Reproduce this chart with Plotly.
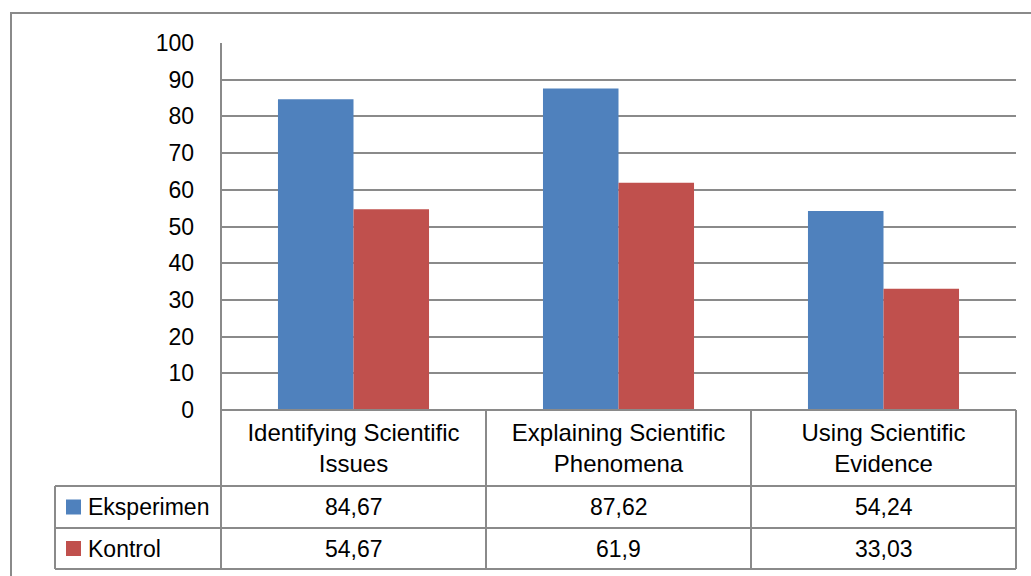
import plotly.graph_objects as go

# Chart data
categories = ["Identifying Scientific<br>Issues",
              "Explaining Scientific<br>Phenomena",
              "Using Scientific<br>Evidence"]
series_names = ["Eksperimen", "Kontrol"]
eksperimen = [84.67, 87.62, 54.24]
kontrol = [54.67, 61.9, 33.03]
y_ticks = [0, 10, 20, 30, 40, 50, 60, 70, 80, 90, 100]

BLUE = "#4F81BD"
RED = "#C0504D"
GRID = "#8A8A8A"
FONT = "Liberation Sans, Arial, sans-serif"

W, H = 1031, 576
ML, MR, MT, MB = 221, 15, 43, 166
PW = W - ML - MR
PH = H - MT - MB
X_RANGE = [-0.5, len(categories) - 0.5]


def px_x(x):
    return (x - ML) / PW


def px_y(y):
    return (H - MB - y) / PH


def cat_edge(i):
    # paper x of the boundary left of category i
    return (i - 0.5 - X_RANGE[0]) / (X_RANGE[1] - X_RANGE[0])


fig = go.Figure()
fig.add_trace(go.Bar(x=categories, y=eksperimen, name=series_names[0],
                     marker=dict(color=BLUE, line=dict(width=0))))
fig.add_trace(go.Bar(x=categories, y=kontrol, name=series_names[1],
                     marker=dict(color=RED, line=dict(width=0))))

# data table rows (pixel rows)
row_top = H - MB
row_lines = [486, 528, 569]
legend_left = 55

shapes = []
line = dict(color=GRID, width=2)
# outer chart frame
shapes.append(dict(type="rect", xref="paper", yref="paper",
                   x0=px_x(11), x1=px_x(W + 20), y0=px_y(13), y1=px_y(H + 20),
                   line=line, fillcolor="rgba(0,0,0,0)", layer="below"))
# horizontal table lines
shapes.append(dict(type="line", xref="paper", yref="paper",
                   x0=0, x1=1, y0=0, y1=0, line=line))
for ry in row_lines:
    shapes.append(dict(type="line", xref="paper", yref="paper",
                       x0=px_x(legend_left), x1=1, y0=px_y(ry), y1=px_y(ry), line=line))
# vertical table lines
shapes.append(dict(type="line", xref="paper", yref="paper",
                   x0=px_x(legend_left), x1=px_x(legend_left),
                   y0=px_y(row_lines[0]), y1=px_y(row_lines[-1]), line=line))
shapes.append(dict(type="line", xref="paper", yref="paper",
                   x0=0, x1=0, y0=1, y1=px_y(row_lines[-1]), line=line))
for i in range(1, len(categories) + 1):
    xe = cat_edge(i)
    shapes.append(dict(type="line", xref="paper", yref="paper",
                       x0=xe, x1=xe, y0=0, y1=px_y(row_lines[-1]), line=line))

annotations = []
rows = [(series_names[0], eksperimen, BLUE), (series_names[1], kontrol, RED)]
for r, (name, vals, color) in enumerate(rows):
    top, bot = row_lines[r], row_lines[r + 1]
    cy = (top + bot) / 2
    # legend key
    shapes.append(dict(type="rect", xref="paper", yref="paper",
                       x0=px_x(66), x1=px_x(81), y0=px_y(cy - 7.5), y1=px_y(cy + 7.5),
                       fillcolor=color, line=dict(width=0)))
    annotations.append(dict(xref="paper", yref="paper", x=px_x(86), y=px_y(cy),
                            xanchor="left", yanchor="middle", showarrow=False,
                            text=name, font=dict(size=23, color="black", family=FONT)))
    for j, v in enumerate(vals):
        label = f"{v:g}".replace(".", ",")
        annotations.append(dict(xref="x", yref="paper", x=categories[j], y=px_y(cy),
                                xanchor="center", yanchor="middle", showarrow=False,
                                text=label, font=dict(size=23, color="black", family=FONT)))

fig.update_layout(
    width=W, height=H,
    margin=dict(l=ML, r=MR, t=MT, b=MB, pad=0),
    paper_bgcolor="white", plot_bgcolor="white",
    barmode="group", bargap=0.43, bargroupgap=0,
    showlegend=False,
    font=dict(family=FONT, size=23, color="black"),
    shapes=shapes, annotations=annotations,
    xaxis=dict(range=X_RANGE, showgrid=False, showline=False, zeroline=False,
               ticks="", tickfont=dict(size=24, color="black"),
               ticklabelstandoff=6),
    yaxis=dict(range=[0, 100], tickvals=y_ticks, showgrid=True, gridcolor=GRID,
               gridwidth=2, zeroline=False, showline=False, ticks="",
               tickfont=dict(size=23, color="black"), ticklabelstandoff=26),
)

fig.write_html("out.html")
